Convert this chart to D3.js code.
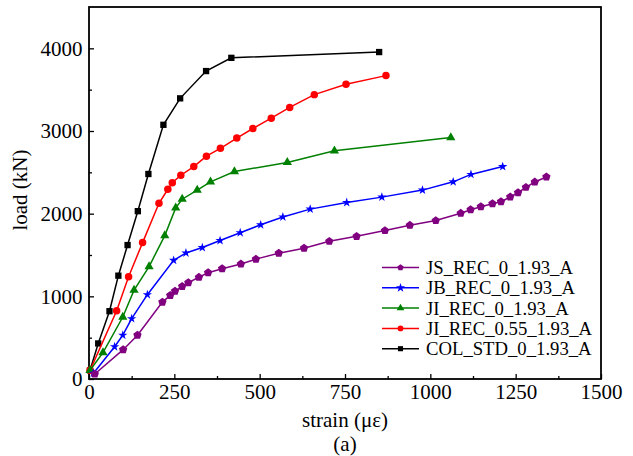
<!DOCTYPE html>
<html>
<head>
<meta charset="utf-8">
<script src="https://cdn.jsdelivr.net/npm/d3@7"></script>
<style>
  body { margin: 0; background: #fff; }
</style>
</head>
<body>
<div id="chart"></div>
<script>
// series data: strain (micro-strain) vs load (kN)
const seriesNames = ["JS_REC_0_1.93_A", "JB_REC_0_1.93_A", "JI_REC_0_1.93_A", "JI_REC_0.55_1.93_A", "COL_STD_0_1.93_A"];
const seriesColors = ["#800080", "#0000ff", "#008000", "#ff0000", "#000000"];
const seriesMarkers = ["pentagon", "star", "triangle", "circle", "square"];

const jsStrain = [17, 100, 142, 215, 238, 252, 273, 291, 322, 349, 390, 445, 489, 556, 630, 704, 784, 867, 940, 1016, 1089, 1118, 1148, 1182, 1207, 1234, 1257, 1280, 1306, 1340];
const jsLoad   = [60, 355, 530, 930, 1012, 1062, 1120, 1165, 1231, 1286, 1334, 1391, 1450, 1522, 1582, 1666, 1726, 1796, 1860, 1917, 2005, 2048, 2084, 2121, 2145, 2202, 2254, 2319, 2383, 2444];

const jbStrain = [13, 75, 99, 125, 171, 248, 284, 332, 384, 443, 503, 568, 648, 755, 858, 977, 1067, 1119, 1212];
const jbLoad   = [70, 390, 530, 730, 1020, 1435, 1525, 1590, 1675, 1770, 1865, 1960, 2055, 2135, 2200, 2285, 2385, 2475, 2570];

const jiStrain = [3, 41, 99, 132, 176, 222, 254, 273, 317, 356, 426, 581, 719, 1060];
const jiLoad   = [105, 320, 750, 1075, 1360, 1735, 2070, 2175, 2285, 2385, 2510, 2620, 2760, 2920];

const ji55Strain = [3, 81, 116, 157, 205, 231, 244, 269, 307, 344, 385, 433, 480, 534, 588, 660, 753, 870];
const ji55Load   = [105, 825, 1237, 1650, 2125, 2295, 2375, 2465, 2570, 2695, 2790, 2915, 3030, 3155, 3285, 3440, 3565, 3670];

const colStrain = [3, 27, 60, 86, 113, 143, 174, 218, 267, 343, 417, 850];
const colLoad   = [105, 430, 820, 1250, 1620, 2030, 2480, 3075, 3395, 3725, 3885, 3955];

const xTicks = [0, 250, 500, 750, 1000, 1250, 1500];
const yTicks = [0, 1000, 2000, 3000, 4000];

const strains = [jsStrain, jbStrain, jiStrain, ji55Strain, colStrain];
const loads = [jsLoad, jbLoad, jiLoad, ji55Load, colLoad];

const series = seriesNames.map((name, i) => ({
  name: name,
  color: seriesColors[i],
  marker: seriesMarkers[i],
  values: strains[i].map((s, j) => ({x: s, y: loads[i][j]}))
}));

const W = 633, H = 456;
const margin = {top: 7, right: 32, bottom: 77, left: 89};
const width = W - margin.left - margin.right;
const height = H - margin.top - margin.bottom;
const serif = "'Liberation Serif'";

const svg = d3.select("#chart").append("svg")
  .attr("width", W)
  .attr("height", H);

const chart = svg.append("g")
  .attr("transform", "translate(" + margin.left + "," + margin.top + ")");

const x = d3.scaleLinear().domain([0, 1500]).range([0, width]);
const y = d3.scaleLinear().domain([0, 4500]).range([height, 0]);

// pentagon symbol
const pentagon = {
  draw(context, size) {
    const r = Math.sqrt(size / 2.378);
    for (let k = 0; k < 5; k++) {
      const a = -Math.PI / 2 + k * 2 * Math.PI / 5;
      if (k === 0) context.moveTo(r * Math.cos(a), r * Math.sin(a));
      else context.lineTo(r * Math.cos(a), r * Math.sin(a));
    }
    context.closePath();
  }
};

function symbolFor(m) {
  if (m === "pentagon") return d3.symbol().type(pentagon).size(46);
  if (m === "star") return d3.symbol().type(d3.symbolStar).size(27);
  if (m === "triangle") return d3.symbol().type(d3.symbolTriangle).size(37);
  if (m === "circle") return d3.symbol().type(d3.symbolCircle).size(44);
  return d3.symbol().type(d3.symbolSquare).size(40);
}

// minor ticks (inward)
const xMinor = d3.range(125, 1500, 250);
const yMinor = d3.range(500, 4500, 1000);

chart.append("g")
  .attr("class", "x axis")
  .attr("transform", "translate(0," + height + ")")
  .call(d3.axisBottom(x).tickValues(xTicks).tickFormat(d3.format("d")).tickSizeInner(-5).tickSizeOuter(0))
  .call(g => g.select(".domain").remove())
  .call(g => g.attr("font-family", null).attr("font-size", null))
  .call(g => g.selectAll("line").attr("stroke-width", 1.3))
  .call(g => g.selectAll("text").style("font-family", serif).style("font-size", "21px").attr("dy", "0.71em").attr("y", 5));

chart.append("g")
  .attr("class", "x minor")
  .attr("transform", "translate(0," + height + ")")
  .call(d3.axisBottom(x).tickValues(xMinor).tickSizeInner(-3).tickSizeOuter(0).tickFormat(""))
  .call(g => g.select(".domain").remove())
  .call(g => g.selectAll("line").attr("stroke-width", 1.3));

chart.append("g")
  .attr("class", "y axis")
  .call(d3.axisLeft(y).tickValues(yTicks).tickFormat(d3.format("d")).tickSizeInner(-5).tickSizeOuter(0))
  .call(g => g.select(".domain").remove())
  .call(g => g.attr("font-family", null).attr("font-size", null))
  .call(g => g.selectAll("line").attr("stroke-width", 1.3))
  .call(g => g.selectAll("text").style("font-family", serif).style("font-size", "21px").attr("x", -6.5));

chart.append("g")
  .attr("class", "y minor")
  .call(d3.axisLeft(y).tickValues(yMinor).tickSizeInner(-3).tickSizeOuter(0).tickFormat(""))
  .call(g => g.select(".domain").remove())
  .call(g => g.selectAll("line").attr("stroke-width", 1.3));

// frame
chart.append("rect")
  .attr("width", width)
  .attr("height", height)
  .attr("fill", "none")
  .attr("stroke", "#000")
  .attr("stroke-width", 1.8);

// lines + markers
const line = d3.line().x(d => x(d.x)).y(d => y(d.y));

series.slice().reverse().forEach(s => {
  const g = chart.append("g").attr("class", "series");
  g.append("path")
    .datum(s.values)
    .attr("d", line)
    .attr("fill", "none")
    .attr("stroke", s.color)
    .attr("stroke-width", 1.5);
  g.selectAll("path.pt")
    .data(s.values)
    .enter().append("path")
    .attr("class", "pt")
    .attr("transform", d => "translate(" + x(d.x) + "," + y(d.y) + ")")
    .attr("d", symbolFor(s.marker)())
    .attr("fill", s.color);
});

// legend
const legend = chart.append("g")
  .attr("transform", "translate(" + (382 - margin.left) + "," + (267.5 - margin.top) + ")");

series.forEach((s, i) => {
  const row = legend.append("g").attr("transform", "translate(0," + (i * 20.3) + ")");
  row.append("line")
    .attr("x1", 0).attr("x2", 37)
    .attr("stroke", s.color)
    .attr("stroke-width", 1.5);
  row.append("path")
    .attr("transform", "translate(18.5,0)")
    .attr("d", symbolFor(s.marker).size(26)())
    .attr("fill", s.color);
  row.append("text")
    .attr("x", 44)
    .attr("dy", "0.35em")
    .style("font-family", serif)
    .style("font-size", "18.7px")
    .text(s.name);
});

// axis titles
svg.append("text")
  .attr("x", margin.left + width / 2)
  .attr("y", 427)
  .attr("text-anchor", "middle")
  .style("font-family", serif)
  .style("font-size", "21px")
  .text("strain (\u03bc\u03b5)");

svg.append("text")
  .attr("x", margin.left + width / 2)
  .attr("y", 451)
  .attr("text-anchor", "middle")
  .style("font-family", serif)
  .style("font-size", "21px")
  .text("(a)");

svg.append("text")
  .attr("transform", "translate(27," + (margin.top + height / 2 - 3) + ") rotate(-90)")
  .attr("text-anchor", "middle")
  .style("font-family", serif)
  .style("font-size", "21px")
  .text("load (kN)");
</script>
</body>
</html>
